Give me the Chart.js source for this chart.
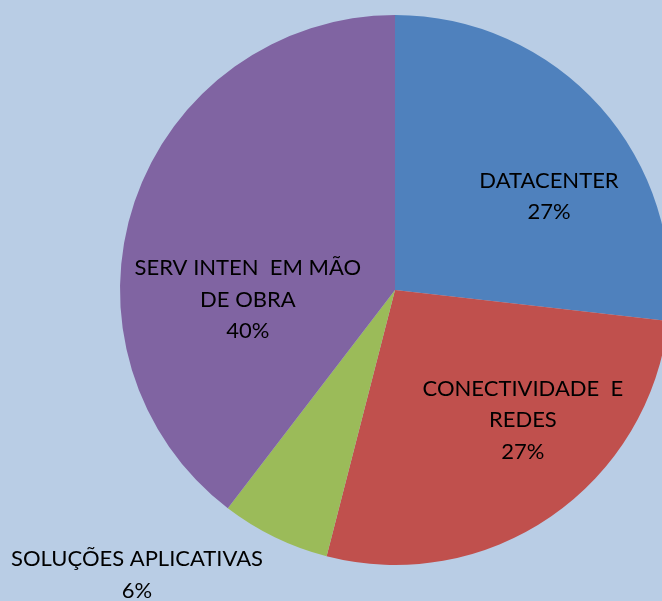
<!DOCTYPE html>
<html>
<head>
<meta charset="utf-8">
<script src="https://cdn.jsdelivr.net/npm/chart.js@4.4.1/dist/chart.umd.min.js"></script>
<style>
  html, body { margin: 0; padding: 0; background: #B9CDE5; overflow: hidden; }
  #wrap { width: 670px; height: 601px; position: relative; }
</style>
</head>
<body>
<div id="wrap"><canvas id="pieChart"></canvas></div>
<script>
const labels = ['DATACENTER', 'CONECTIVIDADE  E REDES', 'SOLUÇÕES APLICATIVAS', 'SERV INTEN  EM MÃO DE OBRA'];
const labelLines = [
  ['DATACENTER'],
  ['CONECTIVIDADE  E', 'REDES'],
  ['SOLUÇÕES APLICATIVAS'],
  ['SERV INTEN  EM MÃO', 'DE OBRA'],
];
const values = [26.8, 27.2, 6.4, 39.6];
const colors = ['#4F81BD', '#C0504D', '#9BBB59', '#8064A2'];
// label block centre, in units of the pie radius, relative to pie centre
const labelOffsets = [[0.56, -0.34], [0.465, 0.473], [-0.938, 1.036], [-0.535, 0.036]];

const dataLabels = {
  id: 'dataLabels',
  afterDatasetsDraw(chart) {
    const ctx = chart.ctx;
    const meta = chart.getDatasetMeta(0);
    const total = values.reduce((a, b) => a + b, 0);
    ctx.save();
    ctx.font = '22px Lato, "Open Sans", sans-serif';
    ctx.fillStyle = '#000';
    ctx.textAlign = 'center';
    ctx.textBaseline = 'middle';
    const lineH = 31.5;
    meta.data.forEach((arc, i) => {
      const r = arc.outerRadius;
      const cx = arc.x + labelOffsets[i][0] * r;
      const cy = arc.y + labelOffsets[i][1] * r;
      const lines = [...labelLines[i], Math.round(values[i] / total * 100) + '%'];
      const top = cy - (lines.length - 1) * lineH / 2;
      lines.forEach((t, k) => ctx.fillText(t, cx, top + k * lineH));
    });
    ctx.restore();
  },
};

document.addEventListener('DOMContentLoaded', () => {
  const ctx = document.getElementById('pieChart').getContext('2d');
  new Chart(ctx, {
    type: 'pie',
    data: {
      labels: labels,
      datasets: [{
        data: values,
        backgroundColor: colors,
        borderWidth: 0,
      }],
    },
    options: {
      responsive: true,
      maintainAspectRatio: false,
      animation: false,
      layout: { padding: { left: 120, right: 0, top: 15, bottom: 36 } },
      plugins: {
        legend: { display: false },
        tooltip: { enabled: false },
      },
    },
    plugins: [dataLabels],
  });
});
</script>
</body>
</html>
